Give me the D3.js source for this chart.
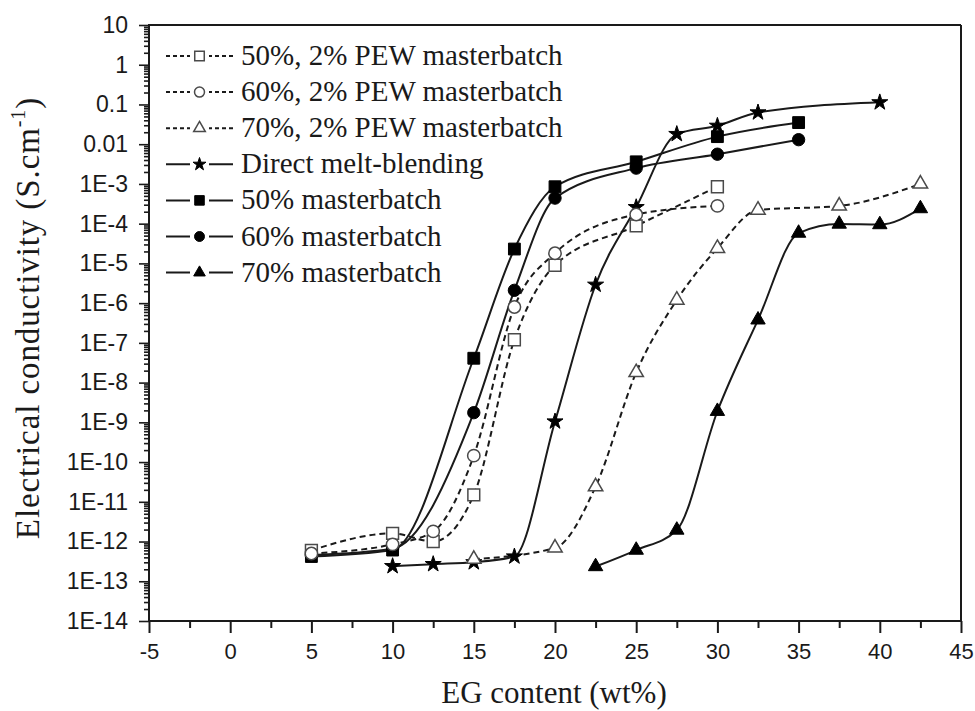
<!DOCTYPE html>
<html>
<head>
<meta charset="utf-8">
<script src="https://cdn.jsdelivr.net/npm/d3@7"></script>
<style>
  html, body { margin: 0; padding: 0; background: #fff; }
  svg { display: block; }
</style>
</head>
<body>
<svg id="chart" width="975" height="711"></svg>
<script>
// ---------------- DATA ----------------
const xTicks = [-5, 0, 5, 10, 15, 20, 25, 30, 35, 40, 45];
const xTickLabels = ["-5", "0", "5", "10", "15", "20", "25", "30", "35", "40", "45"];
const yTickValues = [1e1, 1e0, 1e-1, 1e-2, 1e-3, 1e-4, 1e-5, 1e-6, 1e-7, 1e-8, 1e-9, 1e-10, 1e-11, 1e-12, 1e-13, 1e-14];
const yTickLabels = ["10", "1", "0.1", "0.01", "1E-3", "1E-4", "1E-5", "1E-6", "1E-7", "1E-8", "1E-9", "1E-10", "1E-11", "1E-12", "1E-13", "1E-14"];

const seriesNames = [
  "50%, 2% PEW masterbatch",
  "60%, 2% PEW masterbatch",
  "70%, 2% PEW masterbatch",
  "Direct melt-blending",
  "50% masterbatch",
  "60% masterbatch",
  "70% masterbatch"
];

const pew50X = [5, 10, 12.5, 15, 17.5, 20, 25, 30];
const pew50Y = [6e-13, 1.6e-12, 1.0e-12, 1.5e-11, 1.2e-7, 9e-6, 8.8e-5, 8.5e-4];

const pew60X = [5, 10, 12.5, 15, 17.5, 20, 25, 30];
const pew60Y = [5e-13, 8.5e-13, 1.8e-12, 1.45e-10, 8e-7, 1.8e-5, 1.7e-4, 2.8e-4];

const pew70X = [15, 20, 22.5, 25, 27.5, 30, 32.5, 37.5, 42.5];
const pew70Y = [3.6e-13, 6.9e-13, 2.4e-11, 1.8e-8, 1.2e-6, 2.4e-5, 2.2e-4, 2.8e-4, 1e-3];

const directX = [10, 12.5, 15, 17.5, 20, 22.5, 25, 27.5, 30, 32.5, 40];
const directY = [2.4e-13, 2.7e-13, 3e-13, 4.2e-13, 1.05e-9, 2.9e-6, 2.6e-4, 1.8e-2, 2.9e-2, 6.3e-2, 0.113];

const mb50X = [5, 10, 15, 17.5, 20, 25, 30, 35];
const mb50Y = [4.2e-13, 6.1e-13, 4.1e-8, 2.3e-5, 8.5e-4, 3.6e-3, 1.55e-2, 3.5e-2];

const mb60X = [5, 10, 15, 17.5, 20, 25, 30, 35];
const mb60Y = [4.6e-13, 6.6e-13, 1.75e-9, 2.1e-6, 4.4e-4, 2.5e-3, 5.6e-3, 1.3e-2];

const mb70X = [22.5, 25, 27.5, 30, 32.5, 35, 37.5, 40, 42.5];
const mb70Y = [2.35e-13, 6.1e-13, 1.95e-12, 1.9e-9, 3.8e-7, 5.8e-5, 9.8e-5, 9.5e-5, 2.4e-4];

const xTitle = "EG content (wt%)";

(function () {
// ---------------- STYLE / LAYOUT ----------------
const series = [
  { name: seriesNames[6], xs: mb70X, ys: mb70Y, sym: d3.symbolTriangle, size: 90, fill: "#000", dashed: false },
  { name: seriesNames[5], xs: mb60X, ys: mb60Y, sym: d3.symbolCircle, size: 120, fill: "#000", dashed: false },
  { name: seriesNames[4], xs: mb50X, ys: mb50Y, sym: d3.symbolSquare, size: 140, fill: "#000", dashed: false },
  { name: seriesNames[3], xs: directX, ys: directY, sym: d3.symbolStar, size: 80, fill: "#000", dashed: false },
  { name: seriesNames[2], xs: pew70X, ys: pew70Y, sym: d3.symbolTriangle, size: 90, fill: "open", dashed: true },
  { name: seriesNames[0], xs: pew50X, ys: pew50Y, sym: d3.symbolSquare, size: 140, fill: "open", dashed: true },
  { name: seriesNames[1], xs: pew60X, ys: pew60Y, sym: d3.symbolCircle, size: 120, fill: "open", dashed: true }
];

const pL = 149, pR = 961, pT = 25, pB = 621;
const svg = d3.select("#chart");

const x = d3.scaleLinear().domain([-5, 45]).range([pL, pR]);
const y = d3.scaleLog().domain([1e-14, 10]).range([pB, pT]);

const ink = "#1a1a1a";

// frame
svg.append("line").attr("x1", pL).attr("x2", pR).attr("y1", pT).attr("y2", pT)
  .attr("stroke", ink).attr("stroke-width", 2);
svg.append("line").attr("x1", pR).attr("x2", pR).attr("y1", pT).attr("y2", pB)
  .attr("stroke", ink).attr("stroke-width", 2);

// x axis
const xMinor = d3.range(-2.5, 45, 5);
const gx = svg.append("g").attr("transform", `translate(0,${pB})`)
  .call(d3.axisBottom(x).tickValues(xTicks).tickFormat((d, i) => xTickLabels[i]).tickSize(12).tickPadding(10));
gx.append("g").call(d3.axisBottom(x).tickValues(xMinor).tickFormat("").tickSize(7));
gx.selectAll(".domain").attr("stroke", ink).attr("stroke-width", 2).attr("d", `M${pL - 1},0H${pR + 1}`);
gx.selectAll(".tick line").attr("stroke", ink).attr("stroke-width", 2);
gx.selectAll(".tick text").attr("font-family", "Liberation Sans, Arial, sans-serif")
  .attr("font-size", 22).attr("fill", ink);

// y axis
const yMinor = [];
for (let e = -14; e < 1; e++) for (let k = 2; k <= 9; k++) yMinor.push(k * Math.pow(10, e));
const gy = svg.append("g").attr("transform", `translate(${pL},0)`)
  .call(d3.axisLeft(y).tickValues(yTickValues).tickFormat((d, i) => yTickLabels[i]).tickSize(10).tickPadding(11));
gy.append("g").call(d3.axisLeft(y).tickValues(yMinor).tickFormat("").tickSize(5));
gy.selectAll(".domain").attr("stroke", ink).attr("stroke-width", 2).attr("d", `M0,${pT - 1}V${pB + 1}`);
gy.selectAll(".tick line").attr("stroke", ink).attr("stroke-width", 1.6);
gy.selectAll(".tick text").attr("font-family", "Liberation Sans, Arial, sans-serif")
  .attr("font-size", 23).attr("fill", ink);

// axis titles
svg.append("text").attr("x", (pL + pR) / 2 - 1).attr("y", 703)
  .attr("text-anchor", "middle").attr("font-family", "Liberation Serif, Times New Roman, serif")
  .attr("font-size", 31).attr("fill", ink).text(xTitle);

const yt = svg.append("text").attr("transform", "translate(39,318) rotate(-90)")
  .attr("text-anchor", "middle").attr("font-family", "Liberation Serif, Times New Roman, serif")
  .attr("font-size", 33).attr("letter-spacing", 0.9).attr("fill", ink);
yt.append("tspan").text("Electrical conductivity (S.cm");
yt.append("tspan").attr("font-size", 20).attr("dy", -14).text("-1");
yt.append("tspan").attr("dy", 14).text(")");

// lines
const line = d3.line().x(d => x(d[0])).y(d => y(d[1])).curve(d3.curveMonotoneX);
series.forEach(s => {
  const pts = s.xs.map((v, i) => [v, s.ys[i]]);
  svg.append("path").attr("d", line(pts)).attr("fill", "none")
    .attr("stroke", ink).attr("stroke-width", 2)
    .attr("stroke-dasharray", s.dashed ? "6,4" : null);
});

// markers
function drawMarker(g, s, cx, cy, scale) {
  const isOpen = s.fill === "open";
  g.append("path")
    .attr("d", d3.symbol().type(s.sym).size(s.size * scale)())
    .attr("transform", `translate(${cx},${cy})`)
    .attr("fill", isOpen ? "#fff" : "#000")
    .attr("stroke", isOpen ? "#4a4a4a" : "#000")
    .attr("stroke-width", isOpen ? 1.5 : 1);
}
series.forEach(s => {
  const g = svg.append("g");
  s.xs.forEach((v, i) => drawMarker(g, s, x(v), y(s.ys[i]), 1));
});

// legend
const legendOrder = [5, 6, 4, 3, 2, 1, 0];
const lg = svg.append("g");
legendOrder.forEach((si, row) => {
  const s = series[si];
  const base = 65 + row * 36.1;
  const my = base - 9;
  lg.append("line").attr("x1", 166).attr("x2", 233).attr("y1", my).attr("y2", my)
    .attr("stroke", ink).attr("stroke-width", 2)
    .attr("stroke-dasharray", s.dashed ? "4,3" : null);
  lg.append("rect").attr("x", 190).attr("y", my - 8).attr("width", 19).attr("height", 16).attr("fill", "#fff");
  drawMarker(lg, s, 199.5, my, 0.65);
  lg.append("text").attr("x", 241).attr("y", base)
    .attr("font-family", "Liberation Serif, Times New Roman, serif")
    .attr("font-size", 29).attr("fill", ink).text(s.name);
});
})();
</script>
</body>
</html>
